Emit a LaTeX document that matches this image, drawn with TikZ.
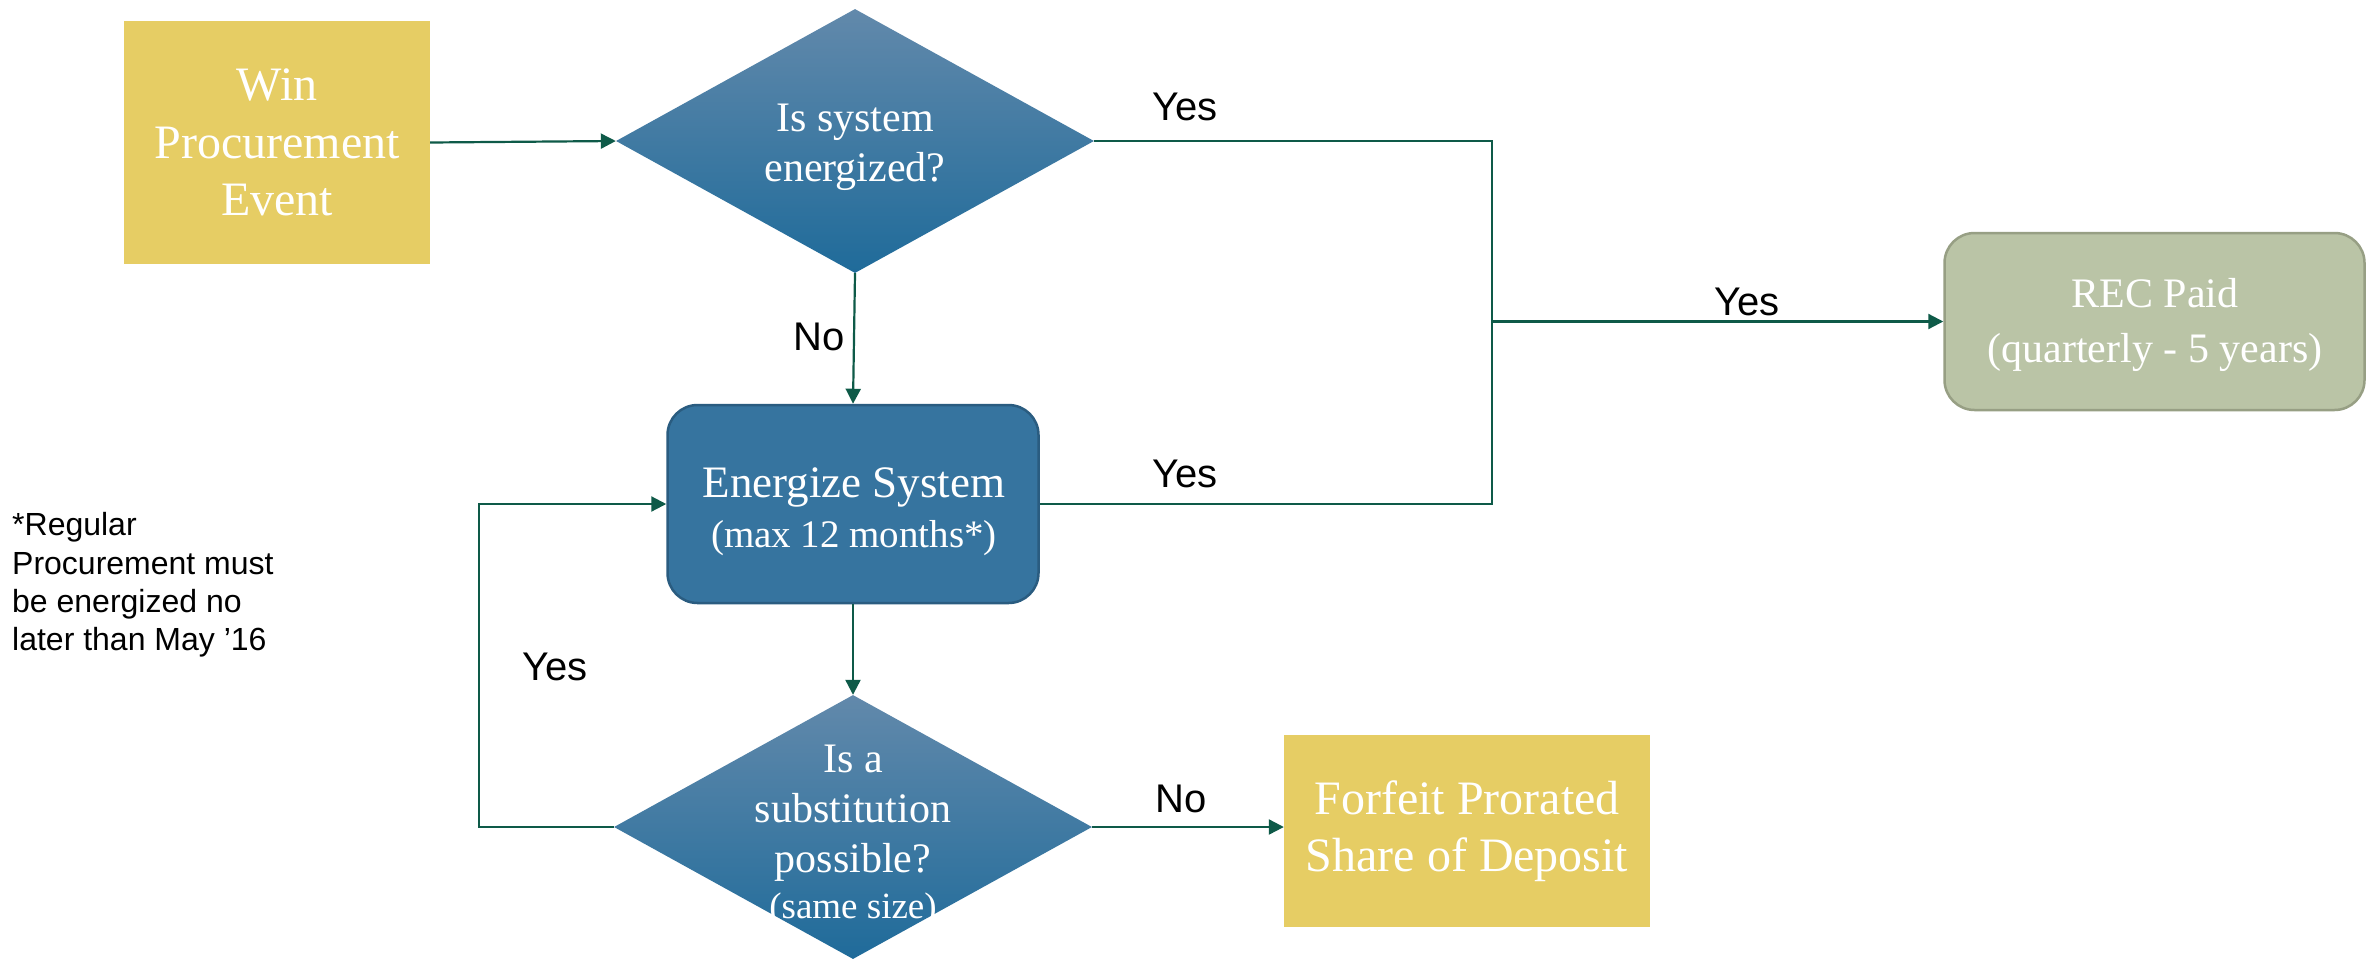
\documentclass[tikz,border=0pt]{standalone}
\usepackage{fontspec}
\setmainfont{Liberation Serif}
\newfontfamily\arialf{Liberation Sans}
\usetikzlibrary{shapes.geometric,arrows.meta}
\definecolor{ylw}{HTML}{E6CD64}
\definecolor{recfill}{HTML}{BAC4A6}
\definecolor{recdraw}{HTML}{979F84}
\definecolor{enfill}{HTML}{36749F}
\definecolor{endraw}{HTML}{2A5C80}
\definecolor{dtop}{HTML}{6289AB}
\definecolor{dbot}{HTML}{1F6B9A}
\definecolor{lnc}{HTML}{0E5A48}
\begin{document}
\begin{tikzpicture}[x=1pt,y=-1pt,
  conn/.style={draw=lnc, line width=2.2pt},
  arr/.style={conn,-{Triangle[length=15pt,width=15pt]}},
  ybox/.style={rectangle, fill=ylw, inner sep=0pt, text=white, align=center,
    font=\fontsize{48}{57.5}\selectfont},
  dia/.style={diamond, minimum width=478pt, minimum height=264pt, inner sep=0pt,
    top color=dtop, bottom color=dbot, draw=none},
  dtext/.style={text=white, align=center, inner sep=0pt, font=\fontsize{42}{50}\selectfont},
  enbox/.style={rectangle, rounded corners=30pt, fill=enfill, draw=endraw, line width=2.5pt,
    minimum width=371pt, minimum height=198pt, inner sep=0pt},
  recbox/.style={rectangle, rounded corners=30pt, fill=recfill, draw=recdraw, line width=2.5pt,
    minimum width=420pt, minimum height=177pt, inner sep=0pt},
  lbl/.style={font=\arialf\fontsize{40}{48}\selectfont, inner sep=0pt}
]
\useasboundingbox (0,0) rectangle (2376,959);
\fill[white] (0,0) rectangle (2376,959);

% nodes
\node[ybox, minimum width=306pt, minimum height=243pt] (win) at (277,142.5) {Win\\Procurement\\Event};
\node[dia] (d1) at (855,141) {};
\node[dtext] (d1t) at (855,147) {Is system\\energized?};
\node[enbox] (en) at (853,504) {};
\node[dtext, align=center] (ent) at (854,512) {\fontsize{45}{48}\selectfont Energize System\\\fontsize{39}{48}\selectfont(max 12 months*)};
\node[dia] (d2) at (853,827) {};
\node[dtext] (d2t) at (853,836) {Is a\\substitution\\possible?\\[-4pt]\fontsize{37}{44}\selectfont(same size)};
\node[ybox, minimum width=366pt, minimum height=192pt] (ff) at (1467,831) {Forfeit Prorated\\Share of Deposit};
\node[recbox] (rec) at (2154.5,321.5) {};
\node[text=white, align=center, inner sep=0pt, font=\fontsize{42}{55}\selectfont] (rect) at (2155,325) {REC Paid\\(quarterly - 5 years)};

% note
\node[font=\arialf\fontsize{32}{38.3}\selectfont, align=left, anchor=west, inner sep=0pt] (note) at (12,585)
  {*Regular\\Procurement must\\be energized no\\later than May ’16};

% junction coordinates
\coordinate (jt) at (1492,141);
\coordinate (jm) at (1492,321.5);
\coordinate (jb) at (1492,504);
\coordinate (lt) at (479,504);
\coordinate (lb) at (479,827);

% connectors
\draw[arr] (win.east) -- (d1.west);
\draw[conn] (d1.east) -- (jt) -- (jb) -- (en.east);
\draw[arr] (jm) -- (rec.west);
\draw[arr] (d1.south) -- (en.north);
\draw[arr] (en.south) -- (d2.north);
\draw[arr] (d2.west) -- (lb) -- (lt) -- (en.west);
\draw[arr] (d2.east) -- (d2.east -| ff.west);

% labels
\node[lbl] (y1) at (1185,107) {Yes};
\node[lbl] (n1) at (819,337) {No};
\node[lbl] (y2) at (1185,474) {Yes};
\node[lbl] (y3) at (1747,302) {Yes};
\node[lbl] (y4) at (555,667) {Yes};
\node[lbl] (n2) at (1181,799) {No};
\end{tikzpicture}
\end{document}
